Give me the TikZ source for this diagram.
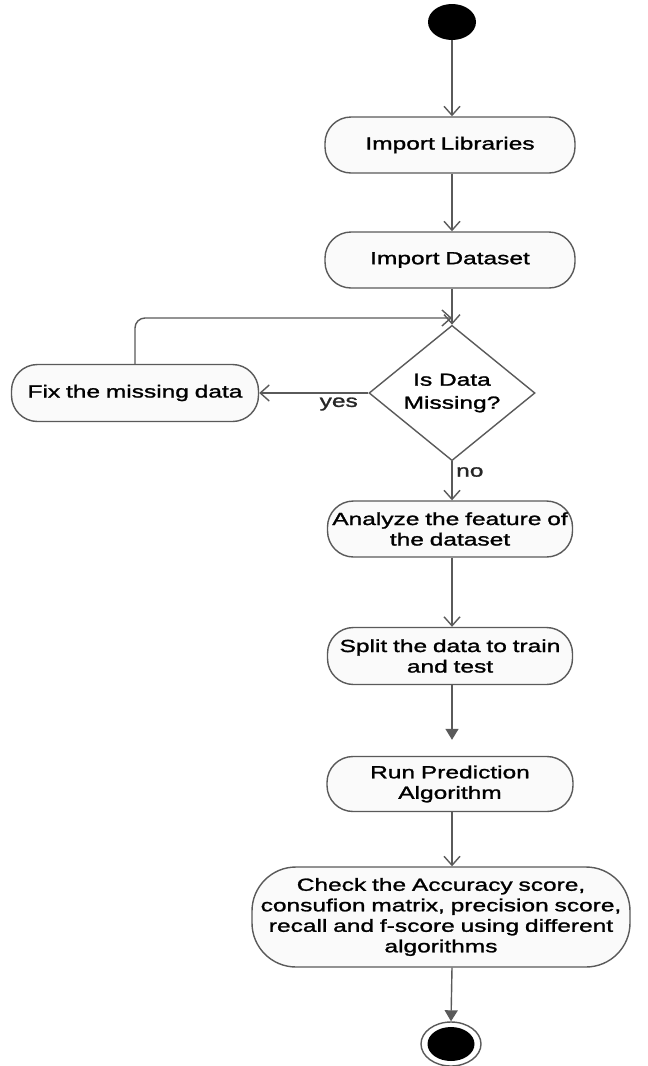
\documentclass[tikz,border=0pt]{standalone}
\usepackage{fontspec}
\newfontfamily\labfont[FakeStretch=1.4,FakeBold=1.4]{Liberation Sans}
\usetikzlibrary{shapes.geometric,arrows.meta}
\definecolor{edge}{HTML}{5A5A5A}
\definecolor{boxfill}{HTML}{FAFAFA}
\tikzset{
  act/.style={draw=edge, line width=1.4pt, fill=boxfill, rectangle, rounded corners=26pt,
    text width=#1, minimum width=#1, inner sep=0pt, align=center, font=\labfont\fontsize{17.5}{20.5}\selectfont},
  flow/.style={draw=edge, line width=1.4pt, -{Straight Barb[length=9pt,width=16pt,line width=1.4pt]}},
  flowfill/.style={draw=edge, line width=1.4pt, -{Triangle[length=11pt,width=13pt]}},
  lbl/.style={font=\labfont\fontsize{17.5}{20.5}\selectfont, text=black!85, inner sep=0pt},
}
\begin{document}
\begin{tikzpicture}[x=1pt,y=-1pt]
\useasboundingbox (0,0) rectangle (648,1066);
\fill[white] (0,0) rectangle (648,1066);
% nodes
\node[ellipse, fill=black, minimum width=48pt, minimum height=36pt, inner sep=0pt] (start) at (452,22) {};
\node[act=250pt, minimum height=56pt] (lib) at (450,145) {Import Libraries};
\node[act=250pt, minimum height=56pt] (ds) at (450,260) {Import Dataset};
\node[diamond, draw=edge, line width=1.4pt, fill=white, minimum width=166pt, minimum height=126pt, inner sep=0pt, align=center, font=\labfont\fontsize{17.5}{23}\selectfont] (dec) at (452,393) {Is Data\\Missing?};
\node[act=247pt, minimum height=57pt] (fix) at (135,393) {Fix the missing data};
\node[act=245pt, minimum height=56pt] (ana) at (450,529) {Analyze the feature of\\the dataset};
\node[act=245pt, minimum height=57pt] (split) at (450,656) {Split the data to train\\and test};
\node[act=246pt, minimum height=55pt] (run) at (450,784) {Run Prediction\\Algorithm};
\node[act=378pt, minimum height=100pt, rounded corners=44pt] (check) at (441,917) {Check the Accuracy score,\\consufion matrix, precision score,\\recall and f-score using different\\algorithms};
\node[ellipse, draw=edge, line width=1.4pt, fill=white, minimum width=60pt, minimum height=44pt, inner sep=0pt] (endo) at (451,1044) {};
\node[ellipse, fill=black, minimum width=47pt, minimum height=34pt, inner sep=0pt] (endi) at (451,1044) {};
\coordinate (merge) at (452,318);
% connectors
\draw[flow] (start.south) -- (start.south |- lib.north);
\draw[flow] (start.south |- lib.south) -- (start.south |- ds.north);
\draw[flow] (start.south |- ds.south) -- (dec.north);
\draw[flow, rounded corners=10pt] (fix.north) |- (merge);
\draw[flow] (dec.west) -- (fix.east);
\draw[flow] (dec.south) -- (dec.south |- ana.north);
\draw[flow] (dec.south |- ana.south) -- (dec.south |- split.north);
\draw[flowfill, shorten >=16pt] (dec.south |- split.south) -- (dec.south |- run.north);
\draw[flow] (dec.south |- run.south) -- (dec.south |- check.north);
\draw[flowfill] (dec.south |- check.south) -- (endo.north);
% labels
\node[lbl, anchor=east] (yes) at (358,404) {yes};
\node[lbl, anchor=west] (no) at (456,472) {no};
\end{tikzpicture}
\end{document}
